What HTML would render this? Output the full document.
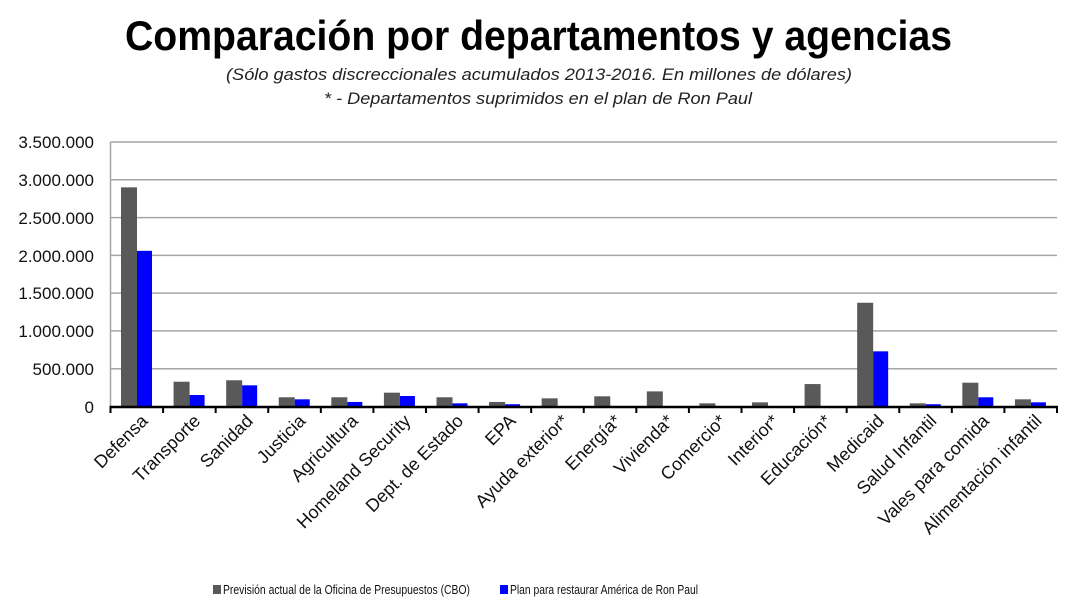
<!DOCTYPE html>
<html><head><meta charset="utf-8"><style>html,body{margin:0;padding:0;background:#fff}svg{display:block}</style></head>
<body>
<svg width="1075" height="602" xmlns="http://www.w3.org/2000/svg" font-family="Liberation Sans, sans-serif">
<rect width="1075" height="602" fill="#fff"/>
<text x="125" y="50" font-size="42" font-weight="bold" textLength="827" lengthAdjust="spacingAndGlyphs">Comparación por departamentos y agencias</text>
<text x="226" y="80" font-size="17" font-style="italic" fill="#222" textLength="626" lengthAdjust="spacingAndGlyphs">(Sólo gastos discreccionales acumulados 2013-2016. En millones de dólares)</text>
<text x="324" y="104" font-size="17" font-style="italic" fill="#222" textLength="428" lengthAdjust="spacingAndGlyphs">* - Departamentos suprimidos en el plan de Ron Paul</text>
<g stroke="#a6a6a6" stroke-width="1.5">
<line x1="110.5" x2="1057" y1="142" y2="142"/><line x1="110.5" x2="1057" y1="179.8" y2="179.8"/><line x1="110.5" x2="1057" y1="217.6" y2="217.6"/><line x1="110.5" x2="1057" y1="255.4" y2="255.4"/><line x1="110.5" x2="1057" y1="293.1" y2="293.1"/><line x1="110.5" x2="1057" y1="330.9" y2="330.9"/><line x1="110.5" x2="1057" y1="368.7" y2="368.7"/>
<line x1="110.5" x2="110.5" y1="142" y2="406.5"/>
</g>
<g font-size="17" text-anchor="end" fill="#111">
<text x="94" y="148">3.500.000</text><text x="94" y="186">3.000.000</text><text x="94" y="224">2.500.000</text><text x="94" y="262">2.000.000</text><text x="94" y="299">1.500.000</text><text x="94" y="337">1.000.000</text><text x="94" y="375">500.000</text><text x="94" y="413">0</text>
</g>
<g id="bars"></g>
<line x1="109.5" x2="1058" y1="407" y2="407" stroke="#000" stroke-width="2.5"/>
<g id="ticks" stroke="#000" stroke-width="2"></g>
<g id="labels" font-size="18" text-anchor="end" fill="#111"></g>
<rect x="213" y="585" width="8" height="9" fill="#595959"/>
<text x="223" y="594" font-size="13" fill="#111" textLength="247" lengthAdjust="spacingAndGlyphs">Previsión actual de la Oficina de Presupuestos (CBO)</text>
<rect x="500" y="585" width="8" height="9" fill="#0000ff"/>
<text x="510" y="594" font-size="13" fill="#111" textLength="188" lengthAdjust="spacingAndGlyphs">Plan para restaurar América de Ron Paul</text>
</svg>
<script>
(function(){
var names=["Defensa","Transporte","Sanidad","Justicia","Agricultura","Homeland Security","Dept. de Estado","EPA","Ayuda exterior*","Energía*","Vivienda*","Comercio*","Interior*","Educación*","Medicaid","Salud Infantil","Vales para comida","Alimentación infantil"];
var g=[2900,328,347,122,122,183,122,60,108,135,200,42,55,297,1373,42,315,95];
var b=[2060,152,280,95,60,139,42,30,0,0,0,0,0,0,730,30,122,55];
var ns="http://www.w3.org/2000/svg";
var n=18,x0=110.5,w=(1057-110.5)/n,y0=406.5,k=75.57/1000;
var bars=document.getElementById("bars"),ticks=document.getElementById("ticks"),labels=document.getElementById("labels");
function el(t,a,p){var e=document.createElementNS(ns,t);for(var q in a)e.setAttribute(q,a[q]);p.appendChild(e);return e;}
for(var i=0;i<n;i++){
 var cx=x0+i*w;
 el("rect",{x:cx+10.5,y:y0-g[i]*k,width:16,height:g[i]*k,fill:"#595959"},bars);
 if(b[i]>0)el("rect",{x:cx+26.5,y:y0-b[i]*k,width:15,height:b[i]*k,fill:"#0000ff"},bars);
 var c=cx+w/2;
 var t=el("text",{x:c+12,y:422,transform:"rotate(-45 "+(c+12)+" 422)"},labels);t.textContent=names[i];
}
for(var i=0;i<=n;i++){var tx=x0+i*w;el("line",{x1:tx,x2:tx,y1:406,y2:413},ticks);}
})();
</script>
</body></html>
